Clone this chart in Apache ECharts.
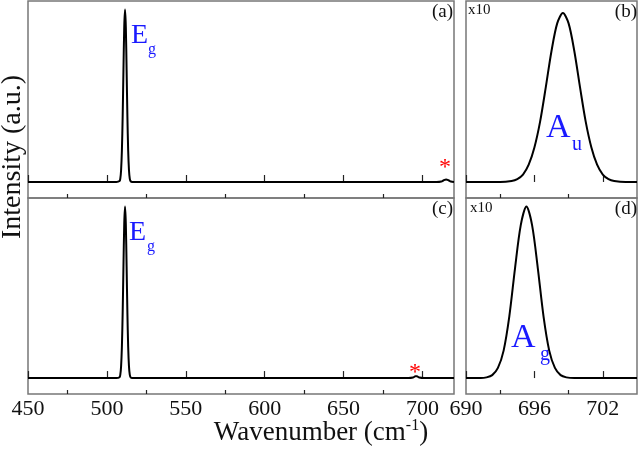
<!DOCTYPE html>
<html>
<head>
<meta charset="utf-8">
<script src="https://cdn.jsdelivr.net/npm/echarts@6/dist/echarts.min.js"></script>
<style>
html, body { margin: 0; padding: 0; background: #fff; }
#chart { width: 638px; height: 452px; }
</style>
</head>
<body>
<div id="chart"></div>
<script>
// spectra: [wavenumber, intensity]
const specA = [[450, 0], [506, 0], [508, 0.5], [508.5, 2], [509, 6.8], [509.5, 18], [510, 38], [510.5, 65], [511, 90], [511.5, 100], [512, 90], [512.5, 65], [513, 38], [513.5, 18], [514, 6.8], [514.5, 2], [515, 0.5], [516, 0], [709, 0], [712, 0.3], [713.5, 1], [715, 1.4], [716.5, 1], [718, 0.3], [720, 0]];
const specB = [[690, 0], [693, 0], [694, 0.6], [694.5, 1.7], [695, 4.3], [695.5, 10], [696, 20], [696.5, 35], [697, 55], [697.5, 76], [698, 92], [698.5, 98], [699, 92], [699.5, 76], [700, 55], [700.5, 35], [701, 20], [701.5, 10], [702, 4.3], [702.5, 1.7], [703, 0.6], [704, 0], [705, 0]];
const specC = [[450, 0], [506, 0], [508, 0.5], [508.5, 2], [509, 6.8], [509.5, 18], [510, 38], [510.5, 65], [511, 90], [511.5, 100], [512, 90], [512.5, 65], [513, 38], [513.5, 18], [514, 6.8], [514.5, 2], [515, 0.5], [516, 0], [691, 0], [694, 0.3], [695.5, 1], [696.5, 1], [698, 0.3], [701, 0], [720, 0]];
const specD = [[690, 0], [691.3, 0], [691.8, 0.4], [692.3, 1.7], [692.8, 5.9], [693.3, 16], [693.8, 36], [694.3, 64], [694.8, 89], [695.3, 100], [695.8, 89], [696.3, 64], [696.8, 36], [697.3, 16], [697.8, 5.9], [698.3, 1.7], [698.8, 0.4], [699.5, 0], [705, 0]];

const wideMajor = [450, 500, 550, 600, 650, 700];
const wideMinor = [475, 525, 575, 625, 675];
const narrowMajor = [690, 696, 702];
const narrowMinor = [693, 699];

const FONT = "Liberation Serif";
const FRAME = "#777";
const BLUE = "#1a1aff";

const chart = echarts.init(document.getElementById("chart"), null, { renderer: "canvas" });

const panels = [
    { left: 28, top: 1, width: 426, height: 197 },
    { left: 466, top: 1, width: 171, height: 197 },
    { left: 28, top: 198, width: 426, height: 196 },
    { left: 466, top: 198, width: 171, height: 196 }
];

const grids = panels.map(function (g)
{
    return Object.assign({ show: true, borderColor: FRAME, borderWidth: 1.5, backgroundColor: "transparent" }, g);
});

function tickAxis(gridIndex, min, max, ticks, len, labels, minor)
{
    const ax = {
        type: "value",
        gridIndex: gridIndex,
        min: min,
        max: max,
        position: minor ? "top" : "bottom",
        axisLine: { show: false },
        splitLine: { show: false },
        axisTick: { show: true, inside: !minor, length: len, customValues: ticks, lineStyle: { color: "#222", width: 1.2 } },
        axisLabel: {
            show: labels,
            customValues: ticks,
            margin: 4,
            color: "#111",
            fontFamily: FONT,
            fontSize: 22
        }
    };
    // the minor tick axis sits on top, pushed down onto the bottom edge
    if (minor) ax.offset = -panels[gridIndex].height;
    return ax;
}

const xAxes = [];
[[0, 450, 720, wideMajor, wideMinor, false], [1, 690, 705, narrowMajor, narrowMinor, false],
 [2, 450, 720, wideMajor, wideMinor, true], [3, 690, 705, narrowMajor, narrowMinor, true]].forEach(function (p)
{
    xAxes.push(tickAxis(p[0], p[1], p[2], p[3], 7, p[5], false));
    xAxes.push(tickAxis(p[0], p[1], p[2], p[4], 4, false, true));
});

const yAxes = [0, 1, 2, 3].map(function (i)
{
    return { type: "value", gridIndex: i, min: -9.3, max: 105, show: false };
});

function line(idx, data)
{
    return {
        type: "line",
        xAxisIndex: idx * 2,
        yAxisIndex: idx,
        data: data,
        showSymbol: false,
        smooth: 0.3,
        lineStyle: { color: "#000", width: 2 },
        silent: true
    };
}

// all text goes through rich styles so the serif family sticks
function txt(str, x, y, size, color, align)
{
    return {
        type: "text",
        x: x,
        y: y,
        style: {
            text: "{t|" + str + "}",
            rich: { t: { fontSize: size, fontFamily: FONT, fill: color } },
            align: align || "left",
            verticalAlign: "middle"
        }
    };
}

const graphics = [
    // panel tags
    txt("(a)", 453, 12, 19, "#111", "right"),
    txt("(b)", 637, 12, 19, "#111", "right"),
    txt("(c)", 453, 209, 19, "#111", "right"),
    txt("(d)", 637, 209, 19, "#111", "right"),
    txt("x10", 468, 10, 15, "#111"),
    txt("x10", 470, 208, 15, "#111"),
    // mode labels, subscripts placed separately
    txt("E", 131, 36, 28, BLUE),
    txt("g", 148, 50, 16, BLUE),
    txt("E", 129, 233, 28, BLUE),
    txt("g", 147, 247, 16, BLUE),
    txt("A", 546, 128, 34, BLUE),
    txt("u", 572, 145, 20, BLUE),
    txt("A", 511, 338, 34, BLUE),
    txt("g", 540, 355, 20, BLUE),
    // impurity marks
    txt("*", 445, 168, 24, "#ff0000", "center"),
    txt("*", 415, 373, 24, "#ff0000", "center"),
    // axis titles
    {
        type: "text",
        x: 13,
        y: 157,
        rotation: Math.PI / 2,
        style: {
            text: "{t|Intensity (a.u.)}",
            rich: { t: { fontSize: 28, fontFamily: FONT, fill: "#111" } },
            align: "center",
            verticalAlign: "middle"
        }
    },
    {
        type: "text",
        x: 321,
        y: 433,
        style: {
            text: "{t|Wavenumber (cm}{s|-1}{t|)}",
            rich: {
                t: { fontSize: 27, fontFamily: FONT, fill: "#111" },
                s: { fontSize: 16, fontFamily: FONT, fill: "#111", padding: [0, 0, 14, 0] }
            },
            align: "center",
            verticalAlign: "middle"
        }
    }
];

chart.setOption({
    animation: false,
    backgroundColor: "#fff",
    grid: grids,
    xAxis: xAxes,
    yAxis: yAxes,
    series: [line(0, specA), line(1, specB), line(2, specC), line(3, specD)],
    graphic: graphics
});
</script>
</body>
</html>
